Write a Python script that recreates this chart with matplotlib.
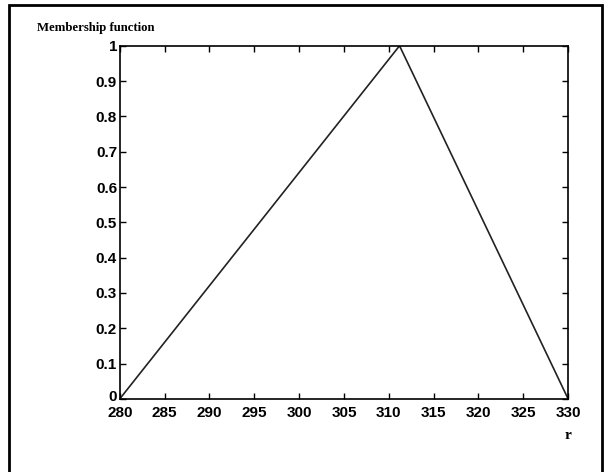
import matplotlib.pyplot as plt
from matplotlib.patches import Rectangle
from matplotlib.transforms import ScaledTranslation

r_pts = [280, 311.2, 330]
mu_pts = [0, 1, 0]
xticks = [280, 285, 290, 295, 300, 305, 310, 315, 320, 325, 330]
yticks = [0, 0.1, 0.2, 0.3, 0.4, 0.5, 0.6, 0.7, 0.8, 0.9, 1]
ytick_labels = ['0', '0.1', '0.2', '0.3', '0.4', '0.5', '0.6', '0.7', '0.8', '0.9', '1']

fig = plt.figure(figsize=(6.05, 4.72), dpi=100)
ax = fig.add_axes([0.198, 0.155, 0.741, 0.748])
ax.plot(r_pts, mu_pts, color='#222222', linewidth=1.2)
ax.set_xlim(280, 330)
ax.set_ylim(0, 1)
ax.set_xticks(xticks)
ax.set_yticks(yticks)
ax.set_yticklabels(ytick_labels)
ax.tick_params(direction='in', length=4, width=1, top=True, right=True)
ax.tick_params(axis='x', pad=5)
ax.tick_params(axis='y', pad=2)
for lab in ax.get_xticklabels() + ax.get_yticklabels():
    lab.set_family('Liberation Sans')
    lab.set_fontsize(11)
    lab.set_fontweight('bold')
for s in ax.spines.values():
    s.set_linewidth(1.2)

# the "0" label sits just above the "280" label, as in the original
zero_lab = ax.get_yticklabels()[0]
zero_lab.set_transform(zero_lab.get_transform()
                       + ScaledTranslation(0, 3 / 100, fig.dpi_scale_trans))

fig.text(0.061, 0.94, 'Membership function', family='Liberation Serif',
         fontsize=9.2, fontweight='bold', va='center', ha='left')
fig.text(0.939, 0.078, 'r', family='Liberation Serif',
         fontsize=11, fontweight='bold', va='center', ha='center')

fig.patches.append(Rectangle((9 / 605, -0.05), 593 / 605, 1.05 - 5 / 472,
                             transform=fig.transFigure, fill=False,
                             edgecolor='black', linewidth=2))

fig.savefig('out.png', dpi=100)
